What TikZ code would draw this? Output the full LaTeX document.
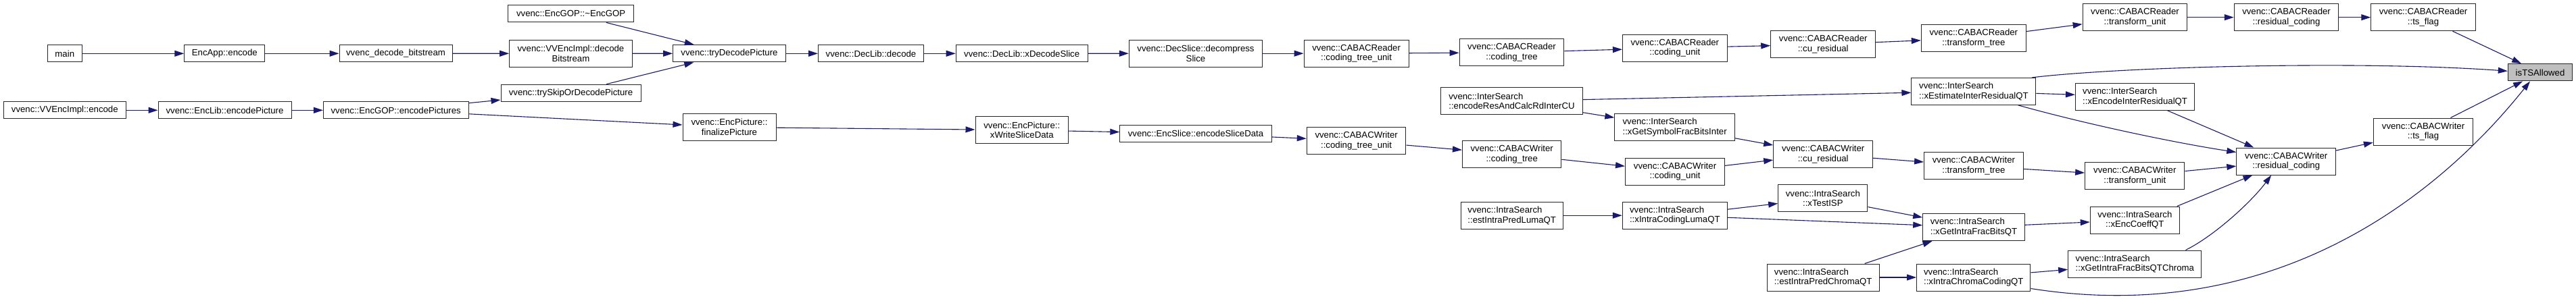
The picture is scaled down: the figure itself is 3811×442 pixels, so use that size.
\documentclass[tikz,border=0pt]{standalone}
\usepackage{fontspec}
\setmainfont{Liberation Sans}
\usetikzlibrary{arrows.meta}
\definecolor{edgeblue}{RGB}{25,25,112}
\definecolor{rootgray}{RGB}{191,191,191}
\tikzset{
  fn/.style={draw=black!85, line width=1pt, fill=white, inner sep=0pt,
    font=\fontsize{13.2}{14.7}\selectfont, minimum height=25.3pt},
  fn2/.style={fn, minimum height=40pt},
  fnc/.style={fn2, align=center},
  fnl/.style={fn2, align=left},
  root/.style={fn, fill=rootgray},
  call/.style={draw=edgeblue, line width=1.1pt, -{Triangle[length=14pt,width=9pt]}},
}
\begin{document}
\begin{tikzpicture}[x=1pt,y=-1pt]
\useasboundingbox (0,0) rectangle (3811,442);
% column 1
\node[fn, minimum width=50.5pt] (main) at (95.8,79.3) {main};
\node[fn, minimum width=181.6pt] (vvimplenc) at (95.8,163.3) {vvenc::VVEncImpl::encode};
% column 2
\node[fn, minimum width=119pt] (encapp) at (332.3,79.3) {EncApp::encode};
\node[fn, minimum width=197pt] (enclib) at (332.5,163.3) {vvenc::EncLib::encodePicture};
% column 3
\node[fn, minimum width=167pt] (decbs) at (585.5,79.3) {vvenc\_decode\_bitstream};
\node[fn, minimum width=214.6pt] (encpics) at (585.7,163.3) {vvenc::EncGOP::encodePictures};
% column 4
\node[fn, minimum width=185.3pt] (dtor) at (844.6,20.3) {vvenc::EncGOP::\textasciitilde EncGOP};
\node[fnc, minimum width=181.6pt] (decbsimpl) at (844.4,79.2) {vvenc::VVEncImpl::decode\\Bitstream};
\node[fn, minimum width=207pt] (tryskip) at (844.5,137.8) {vvenc::trySkipOrDecodePicture};
% column 5
\node[fn, minimum width=166.7pt] (trydec) at (1079,79.3) {vvenc::tryDecodePicture};
\node[fnc, minimum width=138pt] (final) at (1079,188.5) {vvenc::EncPicture::\\finalizePicture};
% column 6
\node[fn, minimum width=156pt] (decode) at (1288.5,79.3) {vvenc::DecLib::decode};
% column 7
\node[fn, minimum width=195pt] (xdecslice) at (1511.7,79.3) {vvenc::DecLib::xDecodeSlice};
\node[fnc, minimum width=137.6pt] (xwrite) at (1511.8,192.7) {vvenc::EncPicture::\\xWriteSliceData};
% column 8
\node[fnc, minimum width=197.4pt] (decomp) at (1769,79.2) {vvenc::DecSlice::decompress\\Slice};
\node[fn, minimum width=224.3pt] (encslice) at (1769,197.8) {vvenc::EncSlice::encodeSliceData};
% column 9
\node[fnc, minimum width=155.2pt] (rctu) at (2006.6,79.2) {vvenc::CABACReader\\::coding\_tree\_unit};
\node[fnc, minimum width=146.7pt] (wctu) at (2006.6,208.7) {vvenc::CABACWriter\\::coding\_tree\_unit};
% column 10
\node[fnc, minimum width=154.7pt] (rct) at (2236.5,77.8) {vvenc::CABACReader\\::coding\_tree};
\node[fnl, minimum width=209.3pt] (encres) at (2236.5,149.8) {vvenc::InterSearch\\::encodeResAndCalcRdInterCU};
\node[fnc, minimum width=146.5pt] (wct) at (2236.7,228.5) {vvenc::CABACWriter\\::coding\_tree};
\node[fnl, minimum width=151.3pt] (estluma) at (2236.7,319.2) {vvenc::IntraSearch\\::estIntraPredLumaQT};
% column 11
\node[fnc, minimum width=154.7pt] (rcu) at (2477.8,71) {vvenc::CABACReader\\::coding\_unit};
\node[fnl, minimum width=177.5pt] (xgsym) at (2477.6,188.5) {vvenc::InterSearch\\::xGetSymbolFracBitsInter};
\node[fnc, minimum width=147pt] (wcu) at (2478,254) {vvenc::CABACWriter\\::coding\_unit};
\node[fnl, minimum width=155pt] (xiclu) at (2477.8,319.2) {vvenc::IntraSearch\\::xIntraCodingLumaQT};
% column 12
\node[fnc, minimum width=155pt] (rcur) at (2697.2,65.8) {vvenc::CABACReader\\::cu\_residual};
\node[fnc, minimum width=147pt] (wcur) at (2697.2,228.5) {vvenc::CABACWriter\\::cu\_residual};
\node[fnc, minimum width=132.3pt] (xisp) at (2696.8,293.8) {vvenc::IntraSearch\\::xTestISP};
\node[fnl, minimum width=165.7pt] (estchroma) at (2697.2,411) {vvenc::IntraSearch\\::estIntraPredChromaQT};
% column 13
\node[fnc, minimum width=155pt] (rtt) at (2919.8,56.7) {vvenc::CABACReader\\::transform\_tree};
\node[fnl, minimum width=184pt] (xest) at (2919.9,135.3) {vvenc::InterSearch\\::xEstimateInterResidualQT};
\node[fnc, minimum width=146.7pt] (wtt) at (2919.9,245.7) {vvenc::CABACWriter\\::transform\_tree};
\node[fnl, minimum width=150.6pt] (xgifb) at (2920,336.7) {vvenc::IntraSearch\\::xGetIntraFracBitsQT};
\node[fnl, minimum width=168.3pt] (xicc) at (2919.8,411) {vvenc::IntraSearch\\::xIntraChromaCodingQT};
% column 14
\node[fnc, minimum width=154.7pt] (rtu) at (3158.5,25.7) {vvenc::CABACReader\\::transform\_unit};
\node[fnl, minimum width=176.4pt] (xenc) at (3158.6,143.3) {vvenc::InterSearch\\::xEncodeInterResidualQT};
\node[fnc, minimum width=147.3pt] (wtu) at (3158.3,260.7) {vvenc::CABACWriter\\::transform\_unit};
\node[fnc, minimum width=132pt] (xecq) at (3158.3,326) {vvenc::IntraSearch\\::xEncCoeffQT};
\node[fnl, minimum width=197.3pt] (xgifbc) at (3158.3,391) {vvenc::IntraSearch\\::xGetIntraFracBitsQTChroma};
% column 15
\node[fnc, minimum width=154.5pt] (rrc) at (3382.5,25.7) {vvenc::CABACReader\\::residual\_coding};
\node[fnc, minimum width=146.8pt] (wrc) at (3382.2,239) {vvenc::CABACWriter\\::residual\_coding};
% column 16
\node[fnc, minimum width=154.5pt] (rts) at (3585,25.7) {vvenc::CABACReader\\::ts\_flag};
\node[fnc, minimum width=147.3pt] (wts) at (3585,195) {vvenc::CABACWriter\\::ts\_flag};
% column 17
\node[root, minimum width=95.4pt] (ists) at (3758,107.3) {isTSAllowed};

% edges
\draw[call] (main) -- (encapp);
\draw[call] (encapp) -- (decbs);
\draw[call] (decbs) -- (decbsimpl);
\draw[call] (decbsimpl) -- (trydec);
\draw[call] (dtor) -- (trydec);
\draw[call] (tryskip) -- (trydec);
\draw[call] (vvimplenc) -- (enclib);
\draw[call] (enclib) -- (encpics);
\draw[call] (encpics) -- (tryskip);
\draw[call] (encpics) -- (final);
\draw[call] (trydec) -- (decode);
\draw[call] (decode) -- (xdecslice);
\draw[call] (xdecslice) -- (decomp);
\draw[call] (decomp) -- (rctu);
\draw[call] (rctu) -- (rct);
\draw[call] (rct) -- (rcu);
\draw[call] (rcu) -- (rcur);
\draw[call] (rcur) -- (rtt);
\draw[call] (rtt) -- (rtu);
\draw[call] (rtu) -- (rrc);
\draw[call] (rrc) -- (rts);
\draw[call] (rts) -- (ists);
\draw[call] (final) -- (xwrite);
\draw[call] (xwrite) -- (encslice);
\draw[call] (encslice) -- (wctu);
\draw[call] (wctu) -- (wct);
\draw[call] (wct) -- (wcu);
\draw[call] (wcu) -- (wcur);
\draw[call] (wcur) -- (wtt);
\draw[call] (wtt) -- (wtu);
\draw[call] (wtu) -- (wrc);
\draw[call] (wrc) -- (wts);
\draw[call] (wts) -- (ists);
\draw[call] (encres) -- (xest);
\draw[call] (encres) -- (xgsym);
\draw[call] (xgsym) -- (wcur);
\draw[call] (xest) -- (xenc);
\draw[call] ([xshift=-6pt]xest.north east) .. controls (3150,98) and (3500,90) .. ([yshift=2pt]ists.west);
\draw[call] ([xshift=-27pt]xest.south east) .. controls (3090,185) and (3220,212) .. ([yshift=13.5pt]wrc.west);
\draw[call] (xenc) -- (wrc);
\draw[call] (estluma) -- (xiclu);
\draw[call] (xiclu) -- (xisp);
\draw[call] (xiclu) -- (xgifb);
\draw[call] (xisp) -- (xgifb);
\draw[call] (estchroma) -- (xgifb);
\draw[call] (estchroma) -- (xicc);
\draw[call] (xicc) -- (xgifbc);
\draw[call] ([yshift=4pt]xicc.south east) .. controls (3400,490) and (3640,250) .. ([xshift=-15pt]ists.south);
\draw[call] (xgifb) -- (xecq);
\draw[call] ([xshift=-4pt]xecq.north east) -- (wrc);
\draw[call] ([xshift=-24pt]xgifbc.north east) .. controls (3275,350) and (3330,300) .. ([xshift=-22pt]wrc.south);
\end{tikzpicture}
\end{document}
